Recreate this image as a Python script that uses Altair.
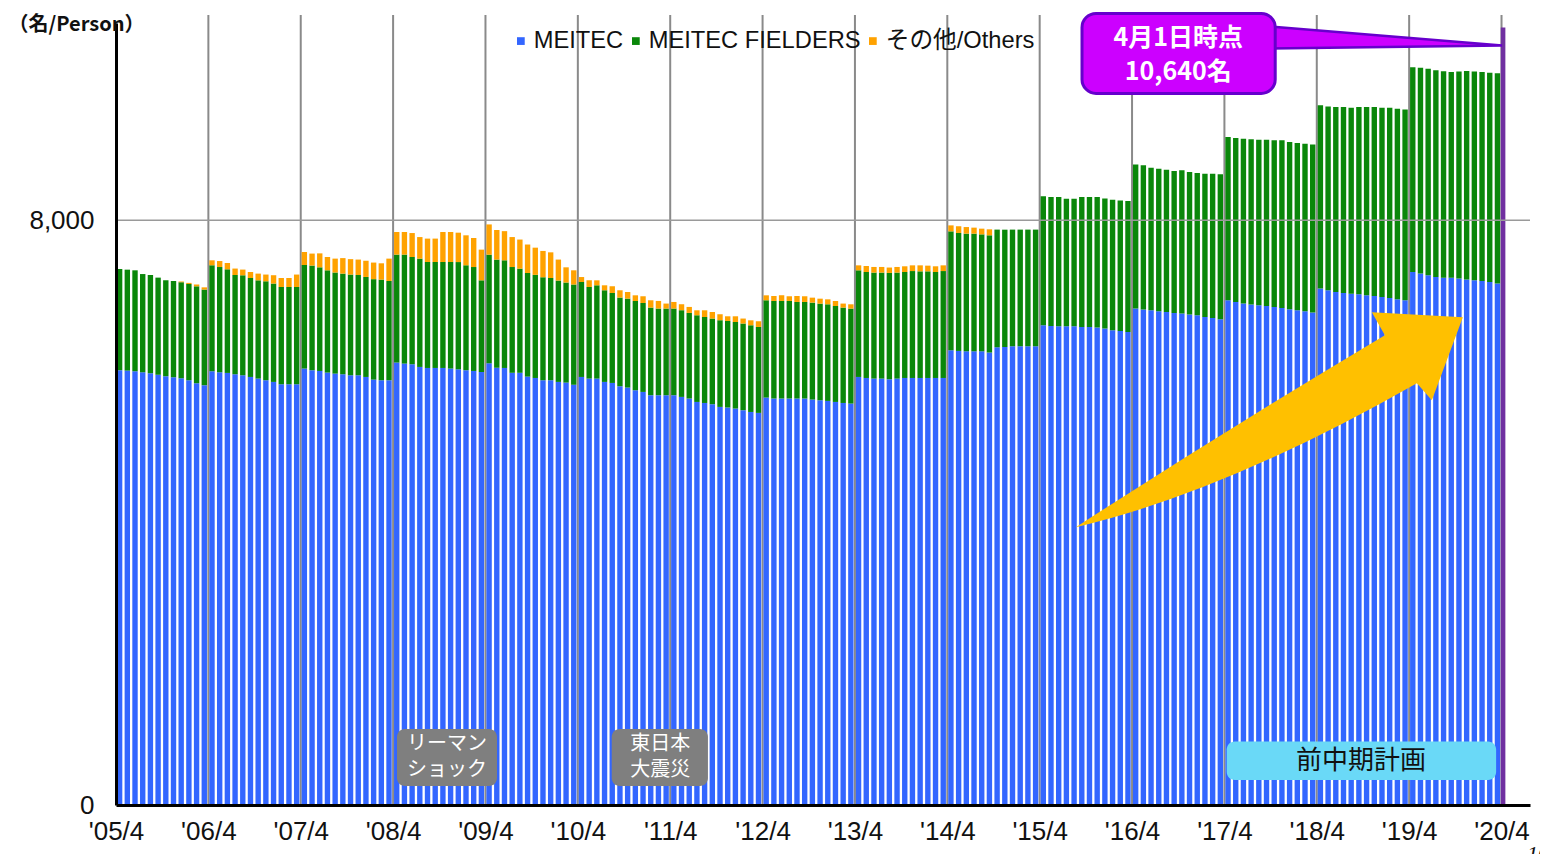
import json
import altair as alt
import pandas as pd

# ---------------- data ----------------
series_names = ["MEITEC", "MEITEC FIELDERS", "その他/Others"]
series_colors = ["#3366FF", "#0A870A", "#FFA200"]

# monthly values, April 2005 .. March 2020 (one line per fiscal year)
meitec = [
    5949, 5944, 5935, 5921, 5908, 5887, 5867, 5853, 5839, 5812, 5771, 5744,
    5935, 5921, 5912, 5894, 5880, 5857, 5835, 5812, 5789, 5757, 5757, 5757,
    5972, 5949, 5939, 5917, 5903, 5894, 5880, 5880, 5857, 5821, 5812, 5812,
    6054, 6040, 6031, 5994, 5980, 5980, 5980, 5972, 5962, 5949, 5939, 5925,
    6044, 5983, 5980, 5914, 5914, 5862, 5843, 5812, 5812, 5789, 5780, 5750,
    5857, 5835, 5835, 5789, 5775, 5730, 5712, 5675, 5652, 5607, 5607, 5607,
    5607, 5584, 5562, 5515, 5501, 5484, 5447, 5439, 5425, 5402, 5378, 5365,
    5575, 5562, 5562, 5562, 5562, 5562, 5548, 5538, 5529, 5515, 5501, 5493,
    5857, 5843, 5835, 5835, 5826, 5835, 5843, 5843, 5843, 5843, 5843, 5843,
    6222, 6213, 6208, 6208, 6208, 6191, 6263, 6267, 6277, 6277, 6277, 6277,
    6564, 6554, 6550, 6550, 6550, 6541, 6541, 6532, 6519, 6496, 6486, 6472,
    6792, 6779, 6769, 6755, 6746, 6732, 6724, 6710, 6701, 6678, 6664, 6646,
    6906, 6883, 6861, 6847, 6838, 6828, 6814, 6801, 6783, 6769, 6755, 6738,
    7066, 7043, 7019, 7006, 6997, 6988, 6974, 6965, 6951, 6937, 6920, 6906,
    7293, 7271, 7248, 7225, 7216, 7216, 7203, 7189, 7179, 7170, 7156, 7134,
]
fielders = [
    1385, 1381, 1381, 1344, 1344, 1329, 1313, 1317, 1313, 1317, 1326, 1309,
    1450, 1440, 1418, 1358, 1368, 1354, 1344, 1354, 1346, 1331, 1331, 1331,
    1417, 1432, 1418, 1399, 1383, 1377, 1378, 1372, 1368, 1374, 1377, 1358,
    1477, 1491, 1467, 1482, 1450, 1450, 1450, 1458, 1467, 1436, 1422, 1254,
    1486, 1480, 1473, 1447, 1425, 1417, 1411, 1409, 1399, 1387, 1369, 1372,
    1299, 1253, 1276, 1254, 1231, 1213, 1217, 1221, 1217, 1199, 1186, 1186,
    1186, 1186, 1171, 1186, 1176, 1172, 1186, 1184, 1184, 1186, 1186, 1176,
    1331, 1335, 1335, 1335, 1321, 1321, 1326, 1322, 1322, 1313, 1305, 1299,
    1459, 1450, 1450, 1450, 1454, 1450, 1450, 1463, 1459, 1459, 1450, 1463,
    1627, 1614, 1610, 1610, 1600, 1604, 1610, 1605, 1596, 1596, 1596, 1596,
    1764, 1764, 1768, 1746, 1746, 1778, 1778, 1786, 1778, 1787, 1787, 1791,
    1973, 1973, 1951, 1951, 1947, 1942, 1960, 1950, 1946, 1961, 1975, 1983,
    2233, 2243, 2256, 2261, 2266, 2276, 2280, 2293, 2288, 2288, 2293, 2301,
    2507, 2516, 2530, 2544, 2544, 2561, 2575, 2585, 2590, 2604, 2608, 2612,
    2803, 2817, 2827, 2827, 2825, 2812, 2835, 2853, 2858, 2858, 2864, 2880,
]
others = [
    0, 0, 0, 0, 0, 0, 0, 0, 10, 15, 25, 30,
    68, 82, 86, 88, 78, 82, 92, 92, 114, 123, 123, 170,
    178, 164, 191, 182, 190, 212, 211, 211, 222, 227, 223, 306,
    309, 309, 328, 295, 320, 320, 410, 410, 402, 410, 397, 420,
    414, 405, 399, 410, 398, 390, 372, 360, 351, 287, 208, 194,
    68, 92, 68, 68, 92, 100, 90, 78, 92, 100, 104, 68,
    90, 82, 82, 68, 92, 90, 82, 64, 78, 68, 68, 78,
    68, 68, 78, 64, 82, 78, 68, 68, 68, 68, 55, 59,
    68, 82, 77, 77, 74, 77, 78, 78, 82, 78, 78, 78,
    82, 92, 90, 82, 78, 82, 0, 0, 0, 0, 0, 0,
    0, 0, 0, 0, 0, 0, 0, 0, 0, 0, 0, 0,
    0, 0, 0, 0, 0, 0, 0, 0, 0, 0, 0, 0,
    0, 0, 0, 0, 0, 0, 0, 0, 0, 0, 0, 0,
    0, 0, 0, 0, 0, 0, 0, 0, 0, 0, 0, 0,
    0, 0, 0, 0, 0, 0, 0, 0, 0, 0, 0, 0,
]
total_2020_4 = 10640          # April 2020 (month index 180)

x_tick_labels = ["'05/4", "'06/4", "'07/4", "'08/4", "'09/4", "'10/4", "'11/4", "'12/4",
                 "'13/4", "'14/4", "'15/4", "'16/4", "'17/4", "'18/4", "'19/4", "'20/4"]
y_tick_values = [0, 8000]

# ---------------- tables ----------------
rows = []
for i in range(len(meitec)):
    base = 0
    for k, vals in enumerate([meitec, fielders, others]):
        v = vals[i]
        if v > 0:
            rows.append({"m": i, "series": series_names[k], "lo": base, "hi": base + v})
        base += v
bars_df = pd.DataFrame(rows)
last_df = pd.DataFrame([{"m": 180, "lo": 0, "hi": total_2020_4}])
grid_x_df = pd.DataFrame({"m": [12 * k for k in range(1, len(x_tick_labels))]})
grid_y_df = pd.DataFrame({"v": [8000]})

W, H = 1414, 782
xs = alt.Scale(domain=[0, 183.7], nice=False, zero=False)
ys = alt.Scale(domain=[0, 10700], nice=False, zero=True)

LAT = "Liberation Sans, Arial, sans-serif"
JP = "Noto Sans CJK JP"

x_axis = alt.Axis(
    values=[12 * k for k in range(len(x_tick_labels))],
    labelExpr=f"{json.dumps(x_tick_labels)}[round(datum.value/12)]",
    title=None, grid=False, ticks=False, labelFontSize=26, labelFont=LAT,
    labelColor="#111", labelPadding=13, labelFlush=False, labelOverlap=False,
    domainColor="#000", domainWidth=3, zindex=1,
)
y_axis = alt.Axis(
    values=y_tick_values, labelExpr="format(datum.value, ',')", grid=False, ticks=False,
    labelFontSize=26, labelFont=LAT, labelColor="#111", labelPadding=22,
    domainColor="#000", domainWidth=3, zindex=1,
    title="（名/Person）", titleAngle=0, titleAlign="left", titleBaseline="middle",
    titleX=-108, titleY=1, titleFont=JP, titleFontSize=20, titleFontWeight="bold",
    titleColor="#111",
)


def X(field):
    return alt.X(field, type="quantitative", scale=xs, axis=x_axis)


def Y(field):
    return alt.Y(field, type="quantitative", scale=ys, axis=y_axis)


vgrid = alt.Chart(grid_x_df).mark_rule(color="#8a8a8a", strokeWidth=2).encode(
    x=X("m"), y=alt.value(-8), y2=alt.value(H)
)

bars = alt.Chart(bars_df).transform_calculate(
    x0="datum.m + 0.12", x1="datum.m + 0.82"
).mark_rect().encode(
    x=X("x0"),
    x2="x1:Q",
    y=Y("lo"),
    y2="hi:Q",
    color=alt.Color(
        "series:N",
        scale=alt.Scale(domain=series_names, range=series_colors),
        legend=alt.Legend(
            title=None, orient="none", legendX=393, legendY=6, direction="horizontal",
            symbolType="square", symbolSize=60, symbolStrokeWidth=0, labelFontSize=23.7,
            labelFont="Liberation Sans, Noto Sans CJK JP", labelColor="#111",
            labelOffset=1, columnPadding=-1, labelLimit=500, padding=0,
        ),
    ),
)

last_bar = alt.Chart(last_df).transform_calculate(
    x0="datum.m - 0.1", x1="datum.m + 0.5"
).mark_rect(color="#7030A0").encode(
    x=X("x0"), x2="x1:Q", y=Y("lo"), y2="hi:Q",
)

hgrid = alt.Chart(grid_y_df).mark_rule(color="#9a9a9a", strokeWidth=1.5).encode(
    y=Y("v"), x=alt.value(0), x2=alt.value(W)
)

# ---------------- annotations (data coordinates) ----------------
boxes_df = pd.DataFrame([
    {"x0": 36.5, "x1": 49.5, "y0": 260, "y1": 1039, "fill": "#7F7F7F"},
    {"x0": 64.4, "x1": 76.9, "y0": 260, "y1": 1039, "fill": "#7F7F7F"},
    {"x0": 144.3, "x1": 179.3, "y0": 342, "y1": 868, "fill": "#6AD9F7"},
])
boxes = alt.Chart(boxes_df).mark_rect(cornerRadius=8).encode(
    x=X("x0"), x2="x1:Q", y=Y("y0"), y2="y1:Q",
    fill=alt.Fill("fill:N", scale=None),
)

white_txt_df = pd.DataFrame([
    {"x": 43.0, "y": 834, "t": "リーマン"},
    {"x": 43.0, "y": 479, "t": "ショック"},
    {"x": 70.7, "y": 834, "t": "東日本"},
    {"x": 70.7, "y": 479, "t": "大震災"},
])
white_txt = alt.Chart(white_txt_df).mark_text(
    font=JP, fontSize=20, color="white", baseline="middle", align="center"
).encode(x=X("x"), y=Y("y"), text="t:N")

plan_txt = alt.Chart(pd.DataFrame([{"x": 161.75, "y": 602, "t": "前中期計画"}])).mark_text(
    font=JP, fontSize=26, color="#111", baseline="middle", align="center"
).encode(x=X("x"), y=Y("y"), text="t:N")

arrow_path = ("M0,0 Q155,-100 309,-192 L296,-215 L387,-210 L356,-127 "
              "L341,-144 Q150,-35 0,0 Z")
arrow = alt.Chart(pd.DataFrame([{"x": 124.7, "y": 3802}])).mark_point(
    shape=arrow_path, size=4, filled=True, fill="#FFC000", strokeWidth=0, opacity=1
).encode(x=X("x"), y=Y("y"))

tail_path = "M0,0 L-232,-19 L-232,3 Z"
tail = alt.Chart(pd.DataFrame([{"x": 180.07, "y": 10393}])).mark_point(
    shape=tail_path, size=4, filled=True, fill="#CC00FF", stroke="#6600CC",
    strokeWidth=2.5, opacity=1
).encode(x=X("x"), y=Y("y"))

callout = alt.Chart(pd.DataFrame([{"x0": 125.5, "x1": 150.6, "y0": 9737, "y1": 10831}])).mark_rect(
    cornerRadius=14, fill="#CC00FF", stroke="#6600CC", strokeWidth=3
).encode(x=X("x0"), x2="x1:Q", y=Y("y0"), y2="y1:Q")

callout_txt = alt.Chart(pd.DataFrame([
    {"x": 138.0, "y": 10496, "t": "4月1日時点"},
    {"x": 138.0, "y": 10030, "t": "10,640名"},
])).mark_text(font=JP, fontSize=25, fontWeight="bold", color="white",
              baseline="middle", align="center").encode(
    x=X("x"), y=Y("y"), text="t:N")

page_no = alt.Chart(pd.DataFrame([{"t": "10"}])).mark_text(
    font="Liberation Serif", fontSize=22, fontStyle="italic", color="#111",
    align="left", baseline="alphabetic"
).encode(x=alt.value(1411), y=alt.value(838), text="t:N")

chart = alt.layer(
    vgrid, bars, last_bar, hgrid, boxes, white_txt, plan_txt, arrow, tail, callout,
    callout_txt, page_no
).properties(
    width=W, height=H,
    padding={"left": 108, "top": 15, "right": 10, "bottom": 49},
    autosize=alt.AutoSizeParams(type="none"),
    background="white",
).configure_view(stroke=None)

chart.save("out.html", embed_options={"renderer": "svg", "actions": False})
